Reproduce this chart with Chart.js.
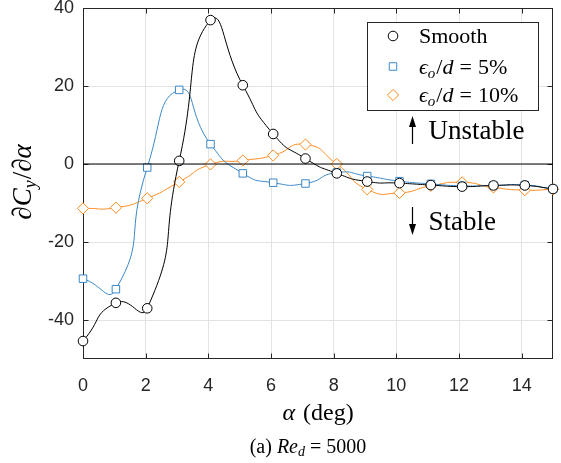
<!DOCTYPE html>
<html>
<head>
<meta charset="utf-8">
<script src="https://cdn.jsdelivr.net/npm/chart.js@4.4.0/dist/chart.umd.min.js"></script>
<style>
  body { margin: 0; background: #fff; }
  #wrap { position: relative; width: 561px; height: 463px; }
  #caption {
    position: absolute; top: 435px; left: 208px; width: 200px; text-align: center;
    font: 20px 'Liberation Serif', serif; color: #000; white-space: nowrap;
  }
  #caption sub { font-size: 14px; vertical-align: -3px; line-height: 0; }
</style>
</head>
<body>
<div id="wrap">
  <canvas id="chart" width="561" height="463"></canvas>
  <div id="caption">(a) <i>Re<sub>d</sub></i>&nbsp;=&nbsp;5000</div>
</div>
<script>
// Angle of attack (deg) for each sample
const alphaDeg = [0, 1.05, 2.05, 3.07, 4.07, 5.1, 6.07, 7.1, 8.1, 9.07, 10.1, 11.1, 12.1, 13.1, 14.1, 15];
// dCy/dalpha for each surface
const dcySmooth = [-45.4, -35.6, -37.0, 0.8, 36.9, 20.2, 7.7, 1.4, -2.4, -4.5, -4.9, -5.4, -5.8, -5.5, -5.5, -6.4];
const dcyRough5 = [-29.4, -32.1, -0.9, 19.0, 5.1, -2.4, -4.8, -5.0, -2.2, -3.1, -4.4, -5.1, -5.6, -5.5, -5.4, -6.4];
const dcyRough10 = [-11.4, -11.2, -8.8, -4.6, -0.1, 0.9, 2.2, 5.0, 0.0, -6.5, -7.4, -5.6, -4.7, -6.0, -6.7, -6.5];

const seriesNames = ['Smooth', '5%', '10%'];
const xTicks = [0, 2, 4, 6, 8, 10, 12, 14];
const yTicks = [-40, -20, 0, 20, 40];

// annotation anchors in data units
const noteAlpha = 10.5;
const unstableY = 8.7;
const stableY = -14.6;

const axisColor = '#262626';
const gridColor = '#e3e3e3';
const blue = '#3a88c8';
const orange = '#ff8a1c';
const serif = "'Liberation Serif', 'DejaVu Serif', serif";
const sans = "'Liberation Sans', Arial, sans-serif";

function pts(ys) {
    return ys.map((v, i) => ({ x: alphaDeg[i], y: v }));
}

// draw a run of text pieces with different fonts
function richWidth(ctx, parts) {
    let w = 0;
    parts.forEach(p => { ctx.font = p.font; w += ctx.measureText(p.t).width + (p.gap || 0); });
    return w;
}
function drawRich(ctx, parts, x, y) {
    let cx = x;
    parts.forEach(p => {
        ctx.font = p.font;
        ctx.fillText(p.t, cx, y + (p.dy || 0));
        cx += ctx.measureText(p.t).width + (p.gap || 0);
    });
}

function epsLabel(pct) {
    return [
        { t: '\u03F5', font: 'italic 22px ' + serif },
        { t: 'o', font: 'italic 15px ' + serif, dy: 4, gap: 1 },
        { t: '/', font: '22px ' + serif },
        { t: 'd', font: 'italic 22px ' + serif, gap: 6 },
        { t: '=', font: '22px ' + serif, gap: 6 },
        { t: pct, font: '22px ' + serif }
    ];
}

// box, inward ticks, legend, notes, axis titles
const framePlugin = {
    id: 'frame',
    beforeDatasetsDraw(chart) {
        const { ctx, chartArea: a, scales: { x, y } } = chart;
        const l = Math.round(a.left) + 0.5, r = Math.round(a.right) - 0.5;
        const t = Math.round(a.top) + 0.5, b = Math.round(a.bottom) - 0.5;
        ctx.save();
        ctx.strokeStyle = axisColor;
        ctx.lineWidth = 1;
        ctx.strokeRect(l, t, r - l, b - t);
        ctx.beginPath();
        xTicks.forEach(v => {
            const px = Math.round(x.getPixelForValue(v)) + 0.5;
            ctx.moveTo(px, b); ctx.lineTo(px, b - 5);
            ctx.moveTo(px, t); ctx.lineTo(px, t + 5);
        });
        yTicks.forEach(v => {
            const py = Math.round(y.getPixelForValue(v)) + 0.5;
            ctx.moveTo(l, py); ctx.lineTo(l + 5, py);
            ctx.moveTo(r, py); ctx.lineTo(r - 5, py);
        });
        ctx.stroke();
        ctx.restore();
    },
    afterDraw(chart) {
        const { ctx, chartArea: a, scales: { x, y } } = chart;
        ctx.save();
        ctx.textBaseline = 'alphabetic';

        // legend
        const lx = 367.5, ly = 22.5, lw = 171, lh = 88;
        ctx.fillStyle = '#fff';
        ctx.fillRect(lx, ly, lw, lh);
        ctx.strokeStyle = axisColor;
        ctx.lineWidth = 1;
        ctx.strokeRect(lx, ly, lw, lh);
        const rows = [36, 66.5, 95];
        chart.data.datasets.slice(1).forEach((ds, i) => {
            ctx.strokeStyle = ds.borderColor;
            ctx.fillStyle = '#fff';
            ctx.lineWidth = 1;
            Chart.helpers.drawPoint(ctx, { pointStyle: ds.pointStyle, radius: ds.pointRadius, borderWidth: 1, rotation: 0 }, 393, rows[i]);
            ctx.fillStyle = '#000';
            const parts = i === 0 ? [{ t: seriesNames[0], font: '22px ' + serif }] : epsLabel(seriesNames[i]);
            drawRich(ctx, parts, 419, rows[i] + 7);
        });

        // stability notes
        const ax = Math.round(x.getPixelForValue(noteAlpha)) + 0.5;
        const uy = y.getPixelForValue(unstableY);
        const sy = y.getPixelForValue(stableY);
        ctx.strokeStyle = '#000';
        ctx.fillStyle = '#000';
        ctx.lineWidth = 1.2;
        ctx.beginPath();
        ctx.moveTo(ax, uy + 14); ctx.lineTo(ax, uy - 4);
        ctx.moveTo(ax, sy - 14); ctx.lineTo(ax, sy + 4);
        ctx.stroke();
        ctx.beginPath();
        ctx.moveTo(ax, uy - 14); ctx.lineTo(ax - 3.5, uy - 3); ctx.lineTo(ax + 3.5, uy - 3); ctx.closePath();
        ctx.moveTo(ax, sy + 14); ctx.lineTo(ax - 3.5, sy + 3); ctx.lineTo(ax + 3.5, sy + 3); ctx.closePath();
        ctx.fill();
        ctx.font = '27px ' + serif;
        ctx.fillText('Unstable', ax + 16, uy + 9);
        ctx.fillText('Stable', ax + 16, sy + 9);

        // x title
        const xt = [
            { t: '\u03B1', font: 'italic 24px ' + serif, gap: 8 },
            { t: '(deg)', font: '24px ' + serif }
        ];
        const cx = (a.left + a.right) / 2;
        drawRich(ctx, xt, cx - richWidth(ctx, xt) / 2, 420);

        // y title, squeezed to the reference length
        const yt = [
            { t: '\u2202', font: 'italic 27px ' + serif },
            { t: 'C', font: 'italic 27px ' + serif },
            { t: 'y', font: 'italic 18px ' + serif, dy: 5, gap: 1 },
            { t: '/', font: '27px ' + serif },
            { t: '\u2202', font: 'italic 27px ' + serif },
            { t: '\u03B1', font: 'italic 27px ' + serif }
        ];
        const yw = richWidth(ctx, yt);
        const k = Math.min(1, 92 / yw);
        ctx.translate(31, 182);
        ctx.rotate(-Math.PI / 2);
        ctx.scale(k, 1);
        drawRich(ctx, yt, -yw / 2, 0);
        ctx.restore();
    }
};

const lineDefaults = {
    showLine: true,
    borderWidth: 1,
    pointBorderWidth: 1,
    pointBackgroundColor: '#fff',
    tension: 0.6,
    clip: 8
};

new Chart(document.getElementById('chart'), {
    type: 'scatter',
    data: {
        datasets: [
            {
                label: 'zero',
                data: [{ x: 0, y: 0 }, { x: 15, y: 0 }],
                showLine: true, borderColor: '#000', borderWidth: 1, pointRadius: 0, tension: 0
            },
            Object.assign({
                label: seriesNames[0], data: pts(dcySmooth),
                borderColor: '#000', pointStyle: 'circle', pointRadius: 4.8
            }, lineDefaults),
            Object.assign({
                label: seriesNames[1], data: pts(dcyRough5),
                borderColor: blue, pointStyle: 'rect', pointRadius: 5.3
            }, lineDefaults),
            Object.assign({
                label: seriesNames[2], data: pts(dcyRough10),
                borderColor: orange, pointStyle: 'rectRot', pointRadius: 5.6
            }, lineDefaults)
        ]
    },
    options: {
        responsive: false,
        animation: false,
        layout: { padding: { top: 8, right: 8, left: 0, bottom: 0 } },
        plugins: { legend: { display: false }, tooltip: { enabled: false } },
        scales: {
            x: {
                type: 'linear', min: 0, max: 15,
                afterBuildTicks: s => { s.ticks = xTicks.map(v => ({ value: v })); },
                afterFit: s => { s.height = 104; s.paddingLeft = 0; s.paddingRight = 0; },
                ticks: { color: axisColor, font: { family: sans, size: 18 }, padding: 16, maxRotation: 0 },
                grid: { color: gridColor, drawTicks: false },
                border: { display: false }
            },
            y: {
                type: 'linear', min: -50, max: 40,
                afterBuildTicks: s => { s.ticks = yTicks.map(v => ({ value: v })); },
                afterFit: s => { s.width = 83; s.paddingTop = 0; s.paddingBottom = 0; },
                ticks: { color: axisColor, font: { family: sans, size: 18 }, padding: 9 },
                grid: { color: gridColor, drawTicks: false },
                border: { display: false }
            }
        }
    },
    plugins: [framePlugin]
});
</script>
</body>
</html>
